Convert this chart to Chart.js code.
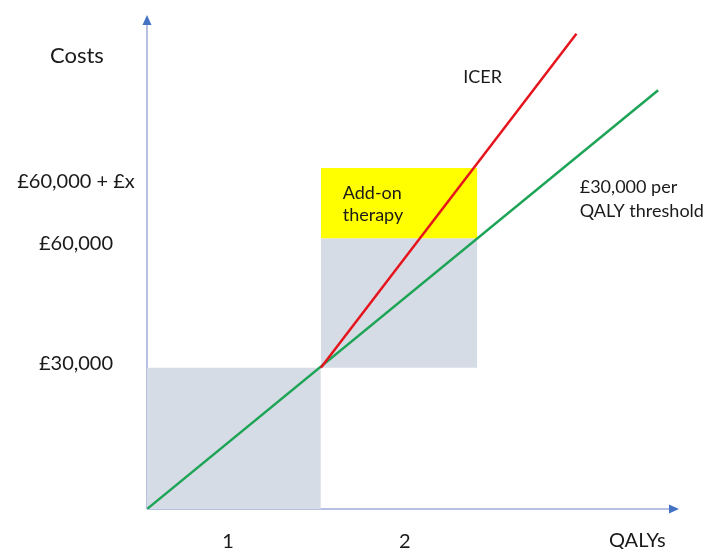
<!DOCTYPE html>
<html>
<head>
<meta charset="utf-8">
<title>ICER vs threshold</title>
<script src="https://cdn.jsdelivr.net/npm/chart.js@4/dist/chart.umd.min.js"></script>
<style>
  html, body { margin: 0; padding: 0; background: #ffffff; }
  canvas { display: block; }
</style>
</head>
<body>
<canvas id="chart" width="705" height="549"></canvas>
<script>
// Cost-effectiveness sketch: QALYs on x, costs (£) on y.
// Values are read off the reference picture (it is a schematic, so
// the £ positions are where the boxes sit, not exact to scale).

const X_MAX = 3.06;
const Y_MAX = 105000;

// Shaded boxes: [xFrom, xTo, yFrom, yTo]
const baseBox = [0, 1, 0, 30000];
const stepBox = [1, 1.9, 30000, 57500];
const addOnBox = [1, 1.9, 57500, 72500];

// Lines
const thresholdX = [0, 2.94];
const thresholdY = [0, 89000];
const icerX = [1, 2.47];
const icerY = [30000, 101000];

// Axis labels (positions where the text sits on the picture)
const yTickValues = [31000, 56500, 69500];
const yTickLabels = ["£30,000", "£60,000", "£60,000 + £x"];
const xTickValues = [0.466, 1.483];
const xTickLabels = ["1", "2"];

const FONT = "Lato, 'Open Sans', sans-serif";
const AXIS_LINE = "#b7c0e2";
const ARROW = "#4472c4";
const BOX_GREY = "#d6dce5";
const BOX_YELLOW = "#ffff00";
const RED = "#e6141c";
const GREEN = "#1ea456";

function pts(xs, ys) {
  return xs.map((x, i) => ({ x, y: ys[i] }));
}

function edge(box, top) {
  const y = top ? box[3] : box[2];
  return [{ x: box[0], y }, { x: box[1], y }];
}

const hidden = { borderColor: "transparent", borderWidth: 0, pointRadius: 0, showLine: true };

// ── Axes, arrows and text ─────────────────────────────────────────

const sketchPlugin = {
  id: "sketch",
  beforeDatasetsDraw(chart) {
    const { ctx, chartArea: a } = chart;
    ctx.save();
    ctx.strokeStyle = AXIS_LINE;
    ctx.lineWidth = 2;
    ctx.beginPath();
    ctx.moveTo(a.left, a.bottom);
    ctx.lineTo(a.left, a.top + 9);
    ctx.moveTo(a.left, a.bottom);
    ctx.lineTo(a.right - 9, a.bottom);
    ctx.stroke();

    ctx.fillStyle = ARROW;
    ctx.beginPath();
    ctx.moveTo(a.left, a.top);
    ctx.lineTo(a.left - 4.5, a.top + 10);
    ctx.lineTo(a.left + 4.5, a.top + 10);
    ctx.closePath();
    ctx.fill();
    ctx.beginPath();
    ctx.moveTo(a.right, a.bottom);
    ctx.lineTo(a.right - 10, a.bottom - 4.5);
    ctx.lineTo(a.right - 10, a.bottom + 4.5);
    ctx.closePath();
    ctx.fill();
    ctx.restore();
  },
  afterDraw(chart) {
    const { ctx, chartArea: a } = chart;
    const xs = chart.scales.x;
    const ys = chart.scales.y;
    ctx.save();
    ctx.fillStyle = "#1a1a1a";
    ctx.textBaseline = "middle";

    // y tick labels
    ctx.font = `20px ${FONT}`;
    ctx.textAlign = "center";
    yTickValues.forEach((v, i) => {
      ctx.fillText(yTickLabels[i], a.left - 71, ys.getPixelForValue(v));
    });
    // x tick labels
    xTickValues.forEach((v, i) => {
      ctx.fillText(xTickLabels[i], xs.getPixelForValue(v), a.bottom + 33);
    });

    // axis titles
    ctx.fillText("QALYs", xs.getPixelForValue(2.82), a.bottom + 32);
    ctx.font = `22px ${FONT}`;
    ctx.textAlign = "left";
    ctx.fillText("Costs", a.left - 97, ys.getPixelForValue(96400));

    // annotations
    ctx.font = `18px ${FONT}`;
    ctx.textAlign = "center";
    ctx.fillText("ICER", xs.getPixelForValue(1.93), ys.getPixelForValue(91700));
    ctx.textAlign = "left";
    ctx.fillText("Add-on", xs.getPixelForValue(1.126), ys.getPixelForValue(67200));
    ctx.fillText("therapy", xs.getPixelForValue(1.126), ys.getPixelForValue(62550));
    ctx.fillText("£30,000 per", xs.getPixelForValue(2.489), ys.getPixelForValue(68300));
    ctx.fillText("QALY threshold", xs.getPixelForValue(2.489), ys.getPixelForValue(63200));
    ctx.restore();
  },
};

// ── Chart ─────────────────────────────────────────────────────────

new Chart(document.getElementById("chart"), {
  type: "scatter",
  data: {
    datasets: [
      { label: "ICER", data: pts(icerX, icerY), showLine: true, borderColor: RED, borderWidth: 2.5, pointRadius: 0, fill: false },
      { label: "£30,000 per QALY threshold", data: pts(thresholdX, thresholdY), showLine: true, borderColor: GREEN, borderWidth: 2.5, pointRadius: 0, fill: false },
      { label: "base", data: edge(baseBox, true), ...hidden, fill: "origin", backgroundColor: BOX_GREY },
      { label: "step bottom", data: edge(stepBox, false), ...hidden, fill: false },
      { label: "step", data: edge(stepBox, true), ...hidden, fill: "-1", backgroundColor: BOX_GREY },
      { label: "add-on", data: edge(addOnBox, true), ...hidden, fill: "-1", backgroundColor: BOX_YELLOW },
    ],
  },
  options: {
    responsive: false,
    animation: false,
    devicePixelRatio: 1,
    layout: { padding: { left: 147, right: 26, top: 15, bottom: 40 } },
    plugins: { legend: { display: false }, tooltip: { enabled: false } },
    scales: {
      x: { type: "linear", min: 0, max: X_MAX, display: false },
      y: { type: "linear", min: 0, max: Y_MAX, display: false },
    },
  },
  plugins: [sketchPlugin],
});
</script>
</body>
</html>
